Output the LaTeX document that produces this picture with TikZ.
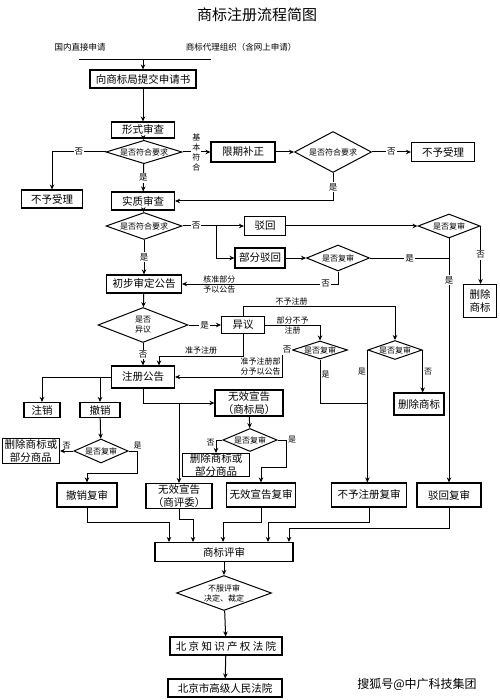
\documentclass[tikz,border=0pt]{standalone}
\usepackage{fontspec}
\setmainfont{Noto Sans CJK SC}
\usetikzlibrary{arrows.meta, shapes.geometric, calc}

\begin{document}
\begin{tikzpicture}[x=1pt, y=-1pt,
	box/.style={draw, line width=1.1pt, inner sep=0pt, align=center, font=\fontsize{10.5}{12.5}\selectfont},
	dia/.style={diamond, draw, line width=1pt, inner sep=0pt, aspect=3, align=center, font=\fontsize{8}{10}\selectfont},
	arr/.style={line width=1pt, -{Stealth[length=5pt, width=4.5pt]}},
	ln/.style={line width=1pt},
	lbl/.style={fill=white, inner sep=1pt, font=\fontsize{8.5}{10}\selectfont},
	lbl2/.style={inner sep=1pt, align=center, font=\fontsize{8}{10}\selectfont}]
	\useasboundingbox (0,0) rectangle (499,700);
	% 标题和申请来源
	\node[font=\fontsize{15}{17}\selectfont] (title) at (257,15) {商标注册流程简图};
	\node[lbl2, font=\fontsize{8.5}{10}\selectfont] (srcA) at (80,47) {国内直接申请};
	\node[lbl2, font=\fontsize{8.5}{10}\selectfont] (srcB) at (241,47) {商标代理组织（含网上申请）};
	\coordinate (inL) at (79,60);
	\coordinate (inR) at (211,60);
	\coordinate (inM) at (143,60);
	% 方框
	\foreach \n/\x/\y/\w/\h/\t in {
		submit/143/79/106/18/向商标局提交申请书,
		formal/143/130/63/16/形式审查,
		rejA/52/199/61/18/不予受理,
		fix/243/152/64/20/限期补正,
		rejB/443/152/63/19/不予受理,
		subst/143/201/63/18/实质审查,
		refuse/265/226/41/19/驳回,
		partref/260/258/50/20/部分驳回,
		delA/480/301/33/33/{删除\\商标},
		prelim/144/284/75/18/初步审定公告,
		oppose/243/325/43/17/异议,
		delB/419/404/50/22/删除商标,
		reg/143/377/63/22/注册公告,
		cancel/42/410/36/15/注销,
		revoke/100/410/40/15/撤销,
		delC/31/451/57/25/{删除商标或\\部分商品},
		revrev/87/495/60/24/撤销复审,
		invA/249/403/68/26/{无效宣告\\（商标局）},
		delD/216/465/67/23/{删除商标或\\部分商品},
		invB/179/496/66/25/{无效宣告\\（商评委）},
		invrev/261/495/69/24/无效宣告复审,
		noregrev/369/495/75/24/不予注册复审,
		refrev/449/495/64/24/驳回复审,
		board/224/552/138/19/商标评审,
		courtB/225/688/114/18/北京市高级人民法院}
	\node[box, minimum width=\w, minimum height=\h] (\n) at (\x,\y) {\t};
	\node[box, minimum width=112, minimum height=18, font=\fontsize{10.5}{12.5}\selectfont\addfontfeatures{LetterSpace=22}] (courtA) at (226,646) {北京知识产权法院};
	% 菱形
	\foreach \n/\x/\y/\w/\h/\t in {
		qA/144/152/76/23/是否符合要求,
		qB/333/152/77/41/是否符合要求,
		qC/144/226/76/27/是否符合要求,
		qD/338/258/63/26/是否复审,
		qE/449/226/62/24/是否复审,
		qF/143/325/90/35/{是否\\异议},
		qG/320/350/55/16/是否复审,
		qH/395/350/51/19/是否复审,
		qI/101/451/52/24/是否复审,
		qJ/250/440/53/23/是否复审,
		qK/224/593/95/35/{不服评审\\决定、裁定}}
	\node[dia, minimum width=\w, minimum height=\h] (\n) at (\x,\y) {\t};
	% 连线
	\draw[ln] (inL) -- (inR);
	\draw[arr] (inM) -- (submit);
	\draw[arr] (submit) -- (formal);
	\draw[arr] (formal) -- (qA);
	\draw[arr] (qA.west) -- node[lbl]{否} (qA.west -| rejA.north) -- (rejA.north);
	\draw[arr] (qA.east) -- node[lbl, align=center, font=\fontsize{8}{10}\selectfont]{基\\本\\符\\合} (fix.west);
	\draw[arr] (qA) -- node[lbl]{是} (subst);
	\draw[arr] (fix) -- (qB);
	\draw[arr] (qB) -- node[lbl]{否} (rejB);
	\draw[arr] (qB.south) -- node[lbl]{是} (qB.south |- subst.east) -- (subst.east);
	\draw[arr] (subst) -- (qC);
	\coordinate (brk) at (216,226);
	\draw[arr] (qC.east) -- node[lbl, pos=0.22]{否} (refuse.west);
	\draw[arr] (brk) |- (partref.west);
	\draw[arr] (qC) -- node[lbl]{是} (prelim);
	\draw[arr] (refuse) -- (qE);
	\draw[arr] (partref) -- (qD);
	\draw[ln] (qD.east) -- node[lbl]{是} (qD.east -| qE.south);
	\draw[arr] (qE.south) -- node[lbl, pos=0.17]{是} (refrev.north);
	\draw[arr] (qE.east) -- node[lbl]{否} (qE.east |- delA.north);
	\draw[arr] (qD.south) |- node[lbl, pos=0.54]{否} node[lbl2, pos=0.88]{核准部分\\予以公告} (prelim.east);
	\draw[arr] (prelim) -- (qF);
	\draw[arr] (qF) -- node[lbl]{是} (oppose);
	\draw[arr] (qF) -- node[lbl]{否} (reg);
	\draw[arr] (oppose.south) -- ++(0,22) -| node[lbl2, above, pos=0.25]{准予注册} ([xshift=16pt]reg.north);
	\draw[arr] (oppose.north) -- ++(0,-9) -| node[lbl2, above, pos=0.16]{不予注册} (qH.north);
	\draw[arr] (oppose.east) -| node[lbl2, pos=0.25]{部分不予\\注册} (qG.north);
	\draw[arr] (qG.west) -- node[lbl]{否} ++(-10,0) |- node[lbl2, above, pos=0.6]{准予注册部\\分予以公告} (reg.east);
	\draw[ln] (qG.south) |- node[lbl2, right, pos=0.17]{是} (qH.west |- 0,403);
	\draw[arr] (qH.west) -- node[lbl2, left, pos=0.165]{是} (qH.west |- noregrev.north);
	\draw[arr] (qH.east) -- node[lbl2, right]{否} (qH.east |- delB.north);
	\draw[arr] (reg.west) -| (cancel.north);
	\draw[arr] (reg.west -| revoke.north) -- (revoke.north);
	\draw[arr] (revoke) -- (qI);
	\draw[arr] (qI.west) -- node[lbl2, above]{否} (delC.east);
	\draw[arr] (qI.east) -- ++(9,0) node[lbl2, above]{是} -- ++(0,22) -| (revrev.north);
	\draw[arr] (reg.south) |- (invA.west);
	\draw[arr] (invB.north |- invA.west) -- (invB.north);
	\draw[arr] (invA) -- (qJ);
	\draw[arr] (qJ.west) -| node[lbl2, left, pos=0.6]{否} (delD.north);
	\draw[arr] (qJ.east) -- ++(9,0) node[lbl2, right]{是} -- ++(0,27) -| (invrev.north);
	% 汇入商标评审
	\draw[arr] (revrev.south) -- ++(0,15) -| ([xshift=-55pt]board.north);
	\draw[arr] (invB.south) -- ++(0,10) -| ([xshift=-31pt]board.north);
	\draw[arr] (invrev.south) -- ++(0,15) -| ([xshift=-1pt]board.north);
	\draw[arr] (noregrev.south) -- ++(0,15) -| ([xshift=44pt]board.north);
	\draw[arr] (refrev.south) -- ++(0,21) -| ([xshift=65pt]board.north);
	\draw[arr] (board) -- (qK);
	\draw[arr] (qK) -- (courtA);
	\draw[arr] (courtA) -- (courtB);
	\node[font=\fontsize{12}{14}\selectfont] (mark) at (417,684) {搜狐号@中广科技集团};
\end{tikzpicture}
\end{document}
